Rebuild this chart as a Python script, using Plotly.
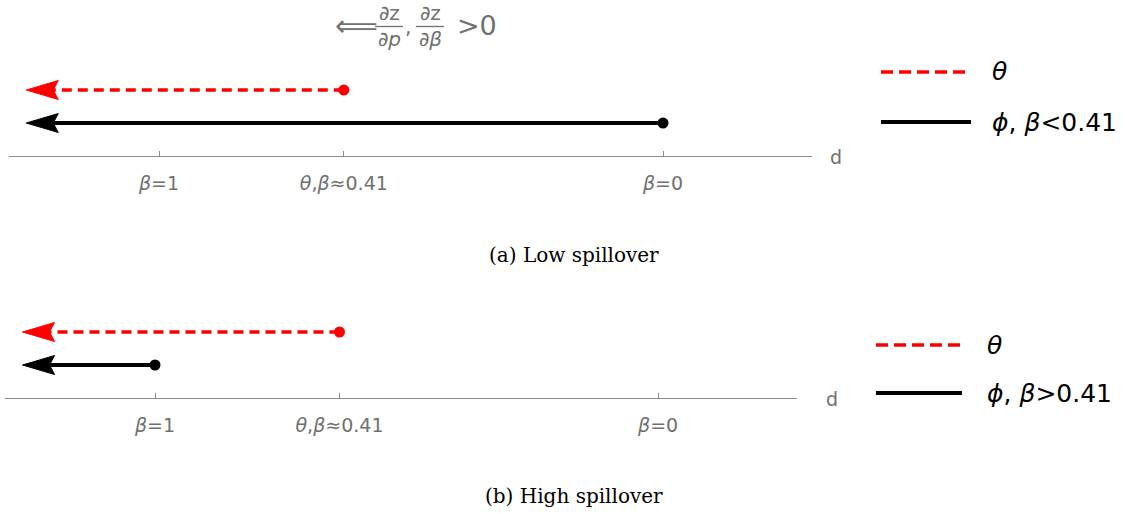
import plotly.graph_objects as go

W, H = 1130, 514

# ---------------- data ----------------
tick_d = [1.0, 2.1, 4.0]                      # positions on the d axis
tick_text = ["<i>β</i>=1", "<i>θ</i>,<i>β</i>≈0.41", "<i>β</i>=0"]
arrow_tip_d = 0.21                             # where both arrows point (to the left)
theta_start_d = [2.1, 2.1]                     # panel (a), panel (b)
phi_start_d = [4.0, 1.0]                       # panel (a), panel (b)
theta_level = 66
phi_level = 33
captions = ["(a) Low spillover", "(b) High spillover"]
legend_theta = "<i>θ</i>"
legend_phi = ["<i>ϕ</i>, <i>β</i>&lt;0.41", "<i>ϕ</i>, <i>β</i>&gt;0.41"]

# ---------------- style ----------------
RED = "#ff0000"
BLACK = "#000000"
AXIS_GRAY = "#8c8c8c"
TEXT_GRAY = "#707070"
SANS = "DejaVu Sans, Liberation Sans, sans-serif"
SERIF = "DejaVu Serif, Liberation Serif, serif"


def px(x):
    return x / W


def py(y):
    return 1 - y / H


# panel geometry in pixels
panels = [
    dict(xl=9, xr=812, ay=156, scale=168.0, p1=159.0, dx=836),
    dict(xl=5, xr=797, ay=398, scale=167.7, p1=155.0, dx=832),
]

fig = go.Figure()

head_len_px = 32
notch_px = 27
head_half_px = 9.5

for i, pn in enumerate(panels):
    xa = "x" if i == 0 else "x2"
    ya = "y" if i == 0 else "y2"
    hl = head_len_px / pn["scale"]
    nt = notch_px / pn["scale"]

    for start, lvl, col, width, dash in [
        (theta_start_d[i], theta_level, RED, 3.5, "10px,6px"),
        (phi_start_d[i], phi_level, BLACK, 4, "solid"),
    ]:
        # shaft
        fig.add_trace(go.Scatter(
            x=[start, arrow_tip_d + nt], y=[lvl, lvl], mode="lines",
            line=dict(color=col, width=width, dash=dash),
            xaxis=xa, yaxis=ya, showlegend=False, hoverinfo="skip"))
        # arrow head (barbed)
        fig.add_trace(go.Scatter(
            x=[arrow_tip_d, arrow_tip_d + hl, arrow_tip_d + nt, arrow_tip_d + hl, arrow_tip_d],
            y=[lvl, lvl + head_half_px, lvl, lvl - head_half_px, lvl],
            mode="lines", fill="toself", fillcolor=col,
            line=dict(color=col, width=1),
            xaxis=xa, yaxis=ya, showlegend=False, hoverinfo="skip"))
        # start dot
        fig.add_trace(go.Scatter(
            x=[start], y=[lvl], mode="markers",
            marker=dict(color=col, size=11),
            xaxis=xa, yaxis=ya, showlegend=False, hoverinfo="skip"))

axis_common = dict(
    showgrid=False, zeroline=False, showline=True, linecolor=AXIS_GRAY, linewidth=1,
    ticks="inside", ticklen=5, tickcolor=AXIS_GRAY, tickwidth=1,
    tickvals=tick_d, ticktext=tick_text,
    tickfont=dict(family=SANS, size=19, color=TEXT_GRAY),
    ticklabelstandoff=10,
    fixedrange=True,
)
yaxis_common = dict(visible=False, range=[0, 100], fixedrange=True)

layout = dict(
    width=W, height=H,
    margin=dict(l=0, r=0, t=0, b=0),
    paper_bgcolor="white", plot_bgcolor="white",
    showlegend=False,
)
for i, pn in enumerate(panels):
    sfx = "" if i == 0 else "2"
    x0 = 1 + (pn["xl"] - pn["p1"]) / pn["scale"]
    x1 = 1 + (pn["xr"] - pn["p1"]) / pn["scale"]
    layout["xaxis" + sfx] = dict(axis_common, domain=[px(pn["xl"]), px(pn["xr"])],
                                 range=[x0, x1], anchor="y" + sfx)
    layout["yaxis" + sfx] = dict(yaxis_common, domain=[py(pn["ay"]), py(pn["ay"] - 100)],
                                 anchor="x" + sfx)

fig.update_layout(**layout)

annotations = []
shapes = []

# axis label "d"
for pn in panels:
    annotations.append(dict(x=px(pn["dx"]), y=py(pn["ay"] + 1), xref="paper", yref="paper",
                            text="d", showarrow=False, xanchor="center", yanchor="middle",
                            font=dict(family=SANS, size=19, color=TEXT_GRAY)))

# legends
legend_geo = [
    dict(x0=881, x1=967, x1b=971, yt=72, yp=122, tx=990),
    dict(x0=876, x1=960, x1b=962, yt=345, yp=393, tx=985),
]
for i, lg in enumerate(legend_geo):
    shapes.append(dict(type="line", xref="paper", yref="paper",
                       x0=px(lg["x0"]), x1=px(lg["x1"]), y0=py(lg["yt"]), y1=py(lg["yt"]),
                       line=dict(color=RED, width=3.5, dash="12px,6px")))
    shapes.append(dict(type="line", xref="paper", yref="paper",
                       x0=px(lg["x0"]), x1=px(lg["x1b"]), y0=py(lg["yp"]), y1=py(lg["yp"]),
                       line=dict(color=BLACK, width=4)))
    annotations.append(dict(x=px(lg["tx"]), y=py(lg["yt"]), xref="paper", yref="paper",
                            text=legend_theta, showarrow=False, xanchor="left", yanchor="middle",
                            font=dict(family=SANS, size=25, color=BLACK)))
    annotations.append(dict(x=px(lg["tx"]), y=py(lg["yp"]), xref="paper", yref="paper",
                            text=legend_phi[i], showarrow=False, xanchor="left", yanchor="middle",
                            font=dict(family=SANS, size=25, color=BLACK)))

# captions
cap_y = [255, 496]
for c, yy in zip(captions, cap_y):
    annotations.append(dict(x=px(574), y=py(yy), xref="paper", yref="paper",
                            text=c, showarrow=False, xanchor="center", yanchor="middle",
                            font=dict(family=SERIF, size=20, color=BLACK)))

# top note: ⟸ ∂z/∂p , ∂z/∂β > 0
annotations.append(dict(x=px(356), y=py(25), xref="paper", yref="paper", text="⟸",
                        showarrow=False, xanchor="center", yanchor="middle",
                        font=dict(family="DejaVu Sans", size=30, color=TEXT_GRAY)))
for cx, den in [(389, "∂<i>p</i>"), (430, "∂<i>β</i>")]:
    annotations.append(dict(x=px(cx), y=py(13), xref="paper", yref="paper", text="∂z",
                            showarrow=False, xanchor="center", yanchor="middle",
                            font=dict(family=SANS, size=20, color=TEXT_GRAY)))
    annotations.append(dict(x=px(cx), y=py(39), xref="paper", yref="paper", text=den,
                            showarrow=False, xanchor="center", yanchor="middle",
                            font=dict(family=SANS, size=20, color=TEXT_GRAY)))
    shapes.append(dict(type="line", xref="paper", yref="paper",
                       x0=px(cx - 14), x1=px(cx + 14), y0=py(26.5), y1=py(26.5),
                       line=dict(color=TEXT_GRAY, width=1.3)))
annotations.append(dict(x=px(408), y=py(27), xref="paper", yref="paper", text=",",
                        showarrow=False, xanchor="center", yanchor="middle",
                        font=dict(family=SANS, size=20, color=TEXT_GRAY)))
annotations.append(dict(x=px(455), y=py(25), xref="paper", yref="paper", text="&gt;0",
                        showarrow=False, xanchor="left", yanchor="middle",
                        font=dict(family=SANS, size=27, color=TEXT_GRAY)))

fig.update_layout(annotations=annotations, shapes=shapes)

fig.write_html("out.html")
